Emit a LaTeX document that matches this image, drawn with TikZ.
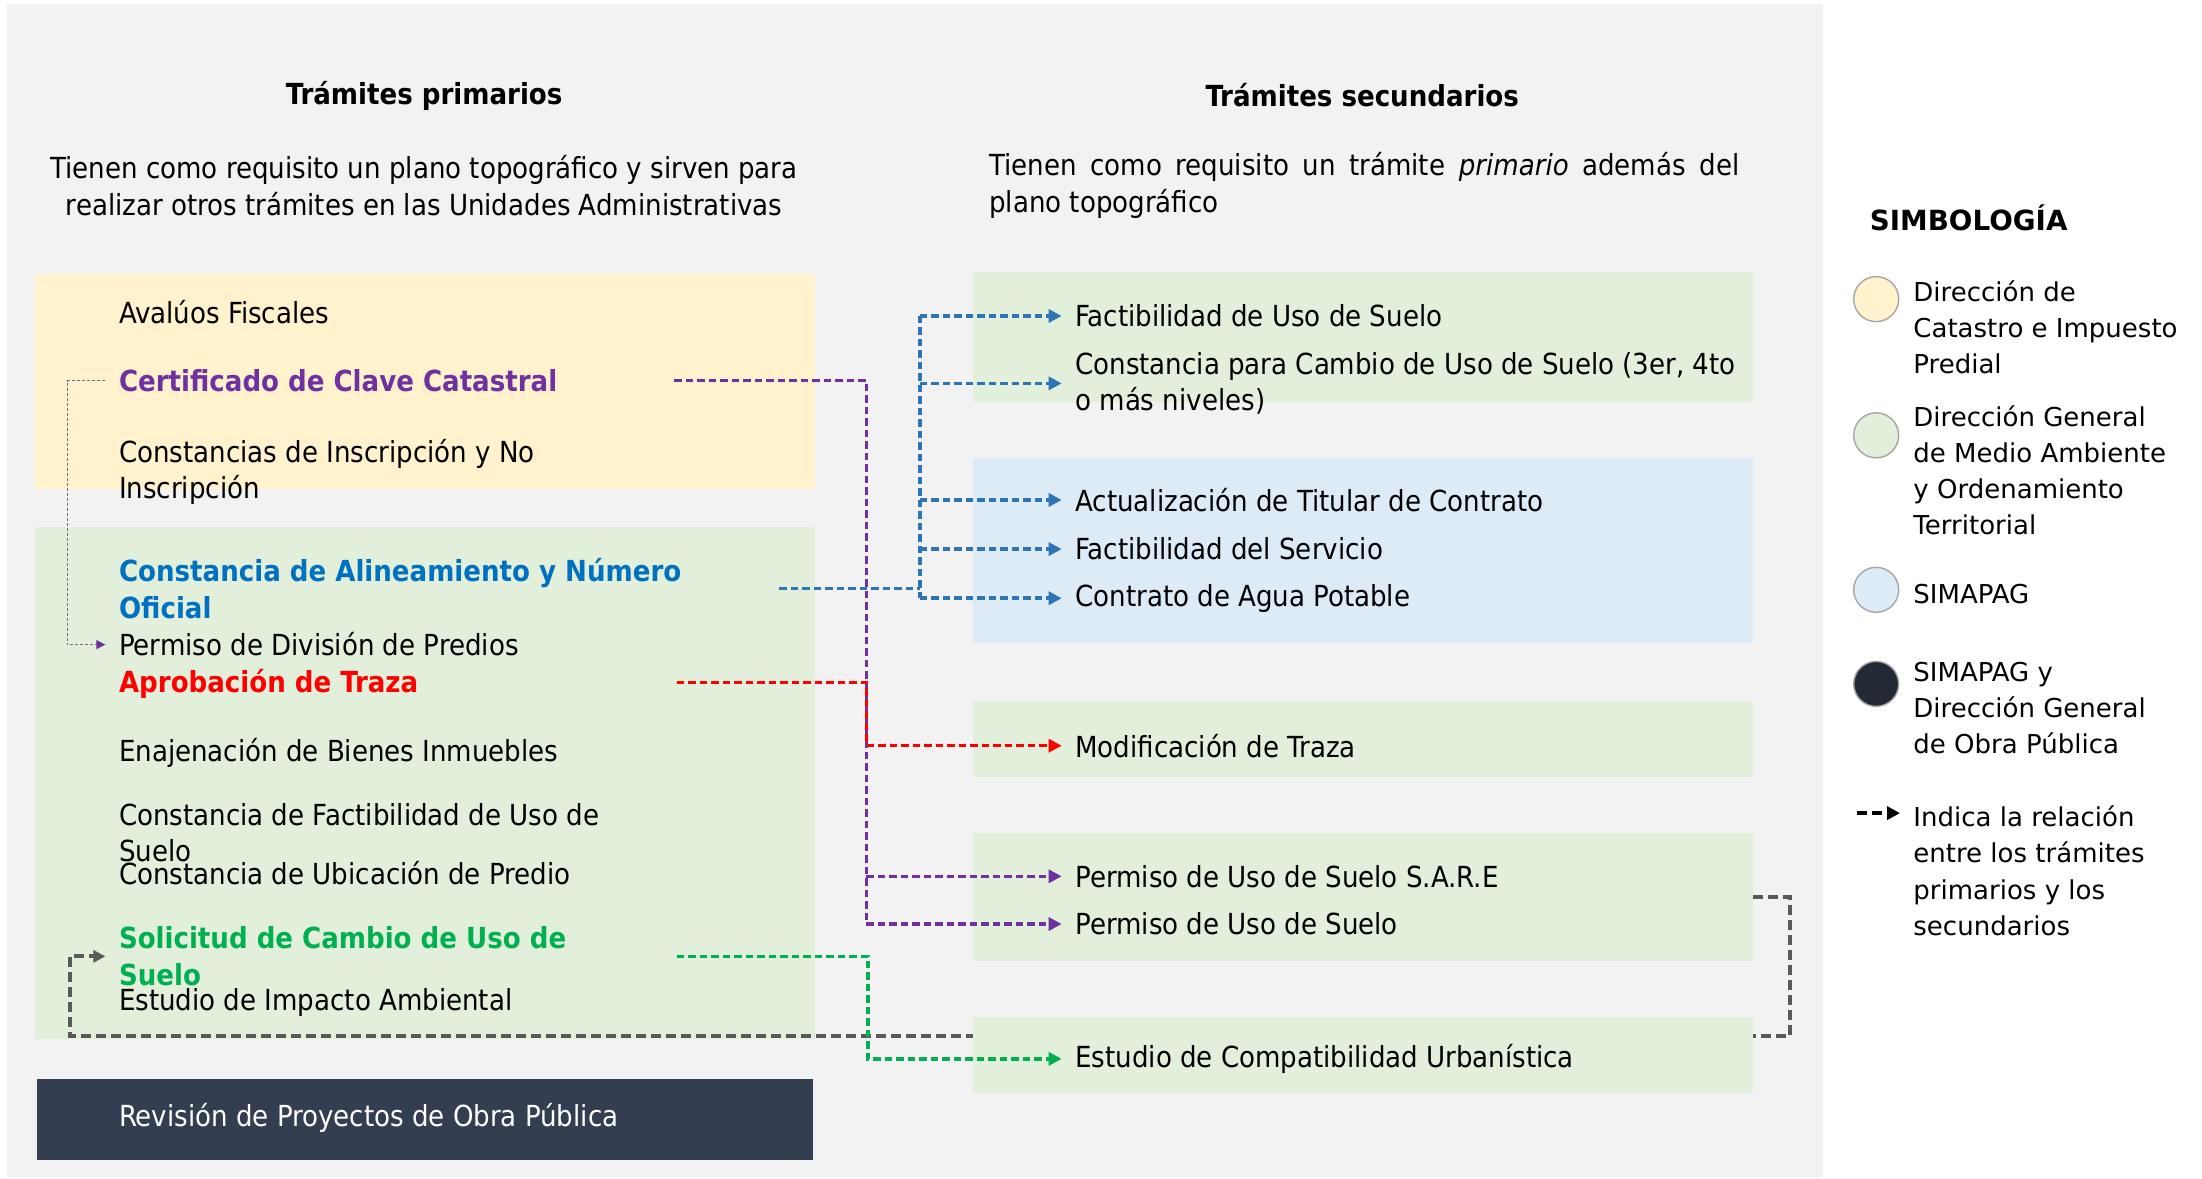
\documentclass[tikz,border=0pt]{standalone}
\usepackage{fontspec}
\setmainfont{DejaVu Sans Condensed}[BoldFont={DejaVu Sans Condensed Bold},ItalicFont={DejaVu Sans Condensed Oblique}]
\newfontfamily\legfont{DejaVu Sans}
\usetikzlibrary{arrows.meta,fit,positioning}

\definecolor{panel}{HTML}{F2F2F2}
\definecolor{catastro}{HTML}{FFF2CC}
\definecolor{medioamb}{HTML}{E2EFDA}
\definecolor{simapag}{HTML}{DDEBF7}
\definecolor{obrapub}{HTML}{333F50}
\definecolor{obrapubdot}{HTML}{222A35}
\definecolor{morado}{HTML}{7030A0}
\definecolor{azul}{HTML}{0070C0}
\definecolor{azullink}{HTML}{2E75B6}
\definecolor{rojo}{HTML}{FF0000}
\definecolor{verde}{HTML}{00B050}
\definecolor{gris}{HTML}{595959}

\pgfdeclarelayer{back}
\pgfdeclarelayer{mid}
\pgfsetlayers{back,mid,main}

\newcommand{\itemfont}{\fontsize{8.25}{10.4}\selectfont}
\newcommand{\legtxtfont}{\legfont\fontsize{7.4}{10.3}\selectfont}

\tikzset{
  box/.style={rectangle, inner sep=0pt, draw=none},
  item/.style={anchor=west, inner xsep=1.3mm, inner ysep=0pt, align=left, font=\itemfont},
  itembold/.style={item, font=\itemfont\bfseries},
  title/.style={inner sep=0pt, font=\itemfont\bfseries},
  desc/.style={inner sep=0pt, font=\itemfont},
  trunk/.style={line width=1pt, dash pattern=on 0.75mm off 0.4mm},
  link/.style={trunk, -{Triangle[length=1.3mm,width=1.3mm]}},
  glink/.style={gris, line width=1.15pt, dash pattern=on 1mm off 0.5mm, -{Triangle[length=1.2mm,width=1.2mm]}},
  dotlink/.style={gray!70!morado, line width=0.35pt, dash pattern=on 0.3mm off 0.2mm, -{Triangle[length=0.9mm,width=0.9mm,color=morado]}},
  legdot/.style={circle, minimum size=4.5mm, inner sep=0pt, draw=gray!70, line width=0.4pt},
  legtext/.style={anchor=west, inner sep=0pt, align=left, font=\legtxtfont},
}

\begin{document}
\begin{tikzpicture}[x=0.14043mm, y=-0.14043mm]
\useasboundingbox (0,0) rectangle (1568,839);
\begin{pgfonlayer}{back}
  \fill[white] (0,0) rectangle (1568,839);
  \fill[panel] (5,3) rectangle (1298,839);
  % areas
  \node[box, fill=catastro, fit={(25,195) (580,348)}] (bxCat) {};
  \node[box, fill=medioamb, fit={(25,375) (580,740)}] (bxMA) {};
  \node[box, fill=obrapub, fit={(26,768) (579,826)}] (bxOP) {};
  \node[box, fill=medioamb, fit={(693,194) (1248,286)}] (bxUS) {};
  \node[box, fill=simapag, fit={(693,326) (1248,458)}] (bxSP) {};
  \node[box, fill=medioamb, fit={(693,499) (1248,553)}] (bxMT) {};
  \node[box, fill=medioamb, fit={(693,593) (1248,684)}] (bxPU) {};
\end{pgfonlayer}
\node[box, fill=medioamb, fit={(693,724) (1248,778)}] (bxEC) {};

% titulos
\node[title] (tPrim) at (302,68) {Trámites primarios};
\node[desc, align=center] (dPrim) at (302,132) {Tienen como requisito un plano topográfico y sirven para\\realizar otros trámites en las Unidades Administrativas};
\node[title] (tSec) at (970,68) {Trámites secundarios};
\node[desc, anchor=west, text width=75mm, align=justify] (dSec) at (704,132) {Tienen como requisito un trámite \emph{primario} además del\linebreak plano topográfico};

% tramites primarios
\node[item] (avf) at (75,222) {Avalúos Fiscales};
\node[itembold, morado] (ccc) at (75,271) {Certificado de Clave Catastral};
\node[item] (cin) at (75,336) {Constancias de Inscripción y No\\Inscripción};
\node[itembold, azul] (can) at (75,419) {Constancia de Alineamiento y Número\\Oficial};
\node[item] (pdp) at (75,459) {Permiso de División de Predios};
\node[itembold, rojo] (apt) at (75,487) {Aprobación de Traza};
\node[item] (ebi) at (75,536) {Enajenación de Bienes Inmuebles};
\node[item] (cfu) at (75,593) {Constancia de Factibilidad de Uso de\\Suelo};
\node[item] (cup) at (75,622) {Constancia de Ubicación de Predio};
\node[itembold, verde] (scu) at (75,681) {Solicitud de Cambio de Uso de\\Suelo};
\node[item] (eia) at (75,714) {Estudio de Impacto Ambiental};
\node[item, white] (rpo) at (75,796) {Revisión de Proyectos de Obra Pública};

% tramites secundarios
\node[item] (fus) at (756,225) {Factibilidad de Uso de Suelo};
\node[item] (ccs) at (756,273) {Constancia para Cambio de Uso de Suelo (3er, 4to\\o más niveles)};
\node[item] (atc) at (756,356) {Actualización de Titular de Contrato};
\node[item] (fds) at (756,391) {Factibilidad del Servicio};
\node[item] (cap) at (756,426) {Contrato de Agua Potable};
\node[item] (mtr) at (756,531) {Modificación de Traza};
\node[item] (sare) at (756,624) {Permiso de Uso de Suelo S.A.R.E};
\node[item] (pus) at (756,658) {Permiso de Uso de Suelo};
\node[item] (ecu) at (756,754) {Estudio de Compatibilidad Urbanística};

% salidas y buses
\coordinate (pCer) at (480,271);
\coordinate (pAli) at (555,419);
\coordinate (pTra) at (482,486);
\coordinate (pSol) at (482,681);
\coordinate (busA) at (655,419);
\coordinate (busP) at (617,271);
\coordinate (busV) at (618,681);
\coordinate (gEsq) at (50,738);
\coordinate (gPur) at (48,271);

% relaciones
\draw[trunk, azullink] (pAli) -- (busA);
\draw[trunk, azullink] (busA |- fus.west) -- (busA |- cap.west);
\foreach \t in {fus,ccs,atc,fds,cap}
{
  \draw[link, azullink] (busA |- \t.west) -- (\t.west);
}
\draw[trunk, morado] (pCer) -| (busP |- pus.west);
\foreach \t in {sare,pus}
{
  \draw[link, morado] (busP |- \t.west) -- (\t.west);
}
\draw[link, rojo] (pTra) -| (busP |- mtr.west) -- (mtr.west);
\draw[link, verde] (pSol) -| (busV |- ecu.west) -- (ecu.west);
\draw[dotlink] (ccc.west) -| (gPur |- pdp.west) -- (pdp.west);
\begin{pgfonlayer}{mid}
  \draw[glink] (bxPU.east) -- ++(26,0) |- (gEsq) |- (scu.west);
\end{pgfonlayer}

% simbologia
\node[anchor=west, inner sep=0pt, font=\legfont\fontsize{7.9}{10}\selectfont\bfseries] (simb) at (1331,155) {SIMBOLOGÍA};
\node[legdot, fill=catastro] (dCat) at (1336,213) {};
\node[legdot, fill=medioamb] (dMA) at (1336,310) {};
\node[legdot, fill=simapag] (dSP) at (1336,420) {};
\node[legdot, fill=obrapubdot] (dOP) at (1336,487) {};
\node[legtext] (lCat) at (1362,233) {Dirección de\\Catastro e Impuesto\\Predial};
\node[legtext] (lMA) at (1362,335) {Dirección General\\de Medio Ambiente\\y Ordenamiento\\Territorial};
\node[legtext] (lSP) at (1362,423) {SIMAPAG};
\node[legtext] (lOP) at (1362,504) {SIMAPAG y\\Dirección General\\de Obra Pública};
\node[legtext] (lRel) at (1362,620) {Indica la relación\\entre los trámites\\primarios y los\\secundarios};
\coordinate (la1) at (1322,579);
\coordinate (la2) at (1353,579);
\draw[black, line width=1.1pt, dash pattern=on 1mm off 0.5mm, -{Triangle[length=1.3mm,width=1.3mm]}] (la1) -- (la2);
\end{tikzpicture}
\end{document}
